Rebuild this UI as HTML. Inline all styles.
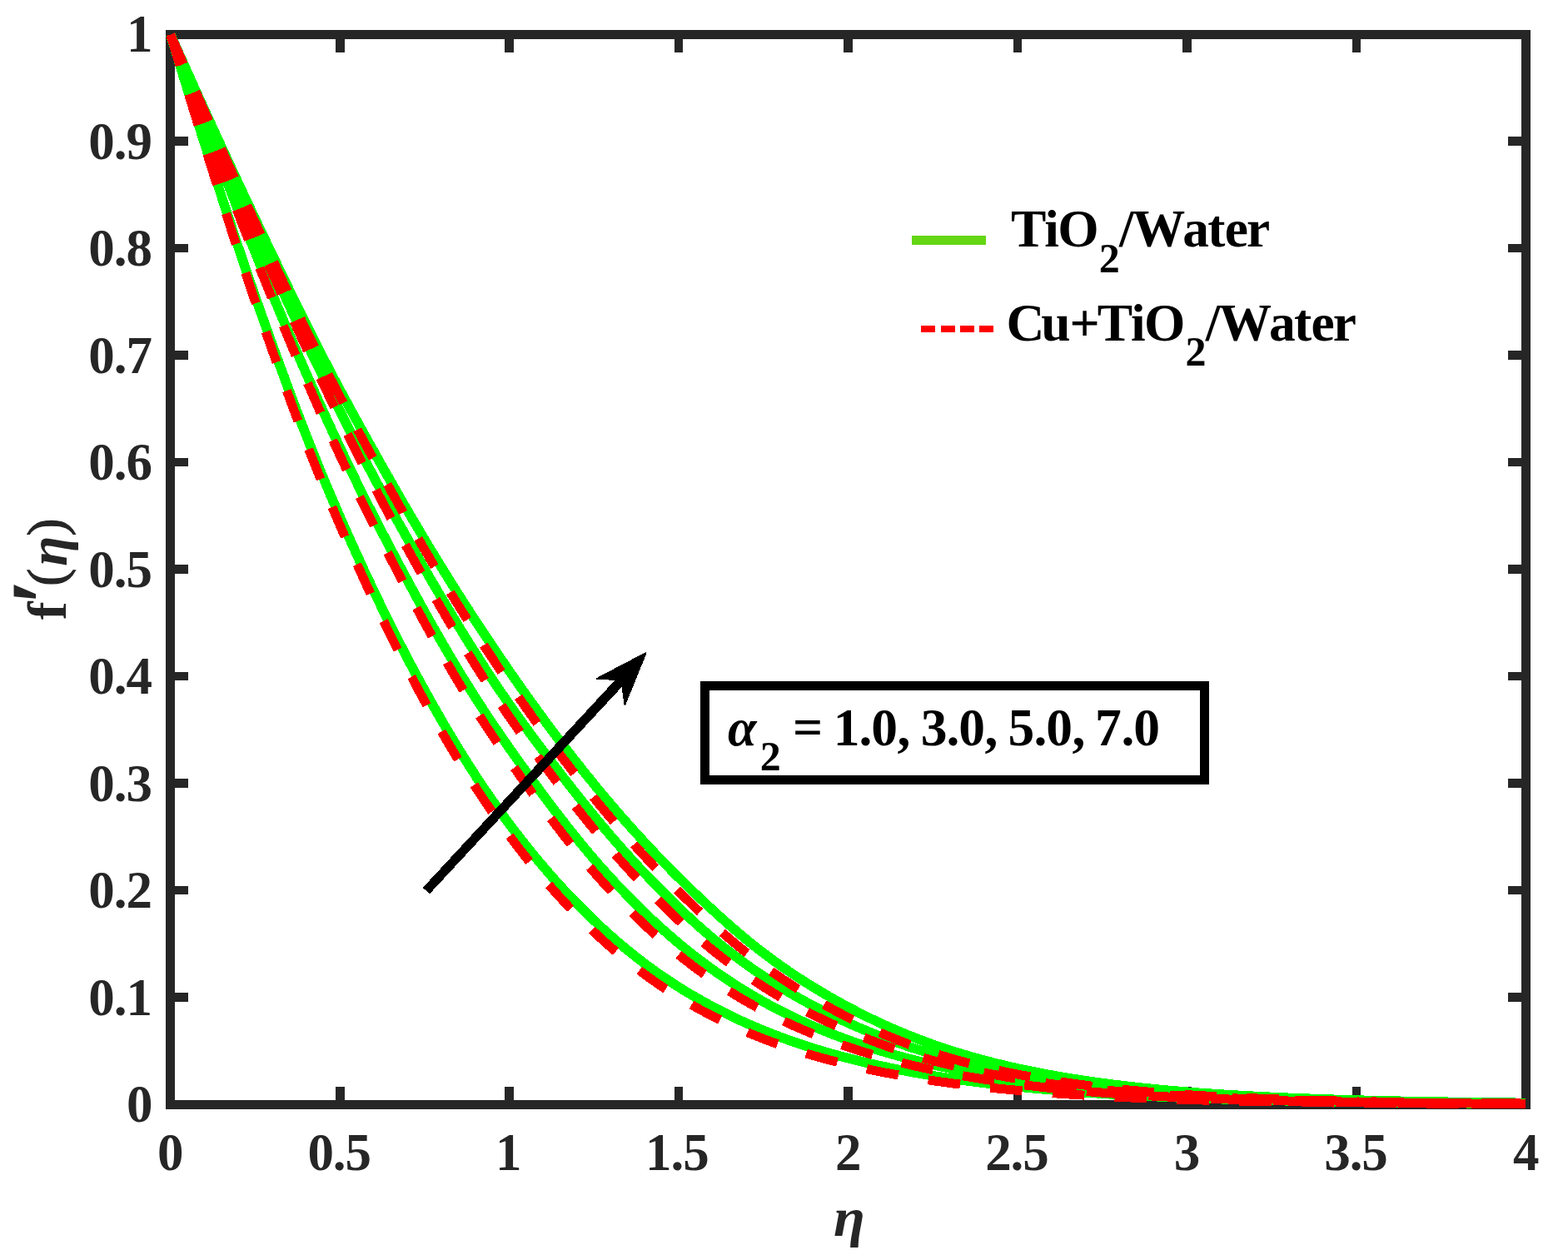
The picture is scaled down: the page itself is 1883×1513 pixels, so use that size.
<!DOCTYPE html>
<html lang="en"><head><meta charset="utf-8"><title>f'(eta) velocity profile</title>
<style>
html,body{margin:0;padding:0;background:#fff;}
body{width:1883px;height:1513px;overflow:hidden;}
svg{display:block;}
text{font-kerning:none;white-space:pre;}
.tk{font-family:"Liberation Serif",serif;font-weight:bold;font-size:63px;fill:#262626;}
.bk{font-family:"Liberation Serif",serif;font-weight:bold;font-size:62.5px;fill:#000;}
.lb{font-family:"Liberation Serif",serif;font-weight:bold;font-size:68.75px;fill:#262626;}
</style></head>
<body>
<svg width="1883" height="1513" viewBox="0 0 1883 1513">
<rect x="0" y="0" width="1883" height="1513" fill="#ffffff"/>
<defs><clipPath id="ax"><rect x="199" y="36" width="1639" height="1296"/></clipPath></defs>
<g shape-rendering="crispEdges" fill="#262626" stroke="none">
<rect x="199.0" y="36.1" width="1638.9" height="10.7"/><rect x="199.0" y="1321.1" width="1638.9" height="10.7"/><rect x="199.0" y="36.1" width="10.7" height="1295.7"/><rect x="1827.2" y="36.1" width="10.7" height="1295.7"/>
<rect x="402.8" y="45.8" width="10.7" height="17.1"/><rect x="402.8" y="1305.0" width="10.7" height="17.1"/><rect x="606.3" y="45.8" width="10.7" height="17.1"/><rect x="606.3" y="1305.0" width="10.7" height="17.1"/><rect x="809.7" y="45.8" width="10.7" height="17.1"/><rect x="809.7" y="1305.0" width="10.7" height="17.1"/><rect x="1013.2" y="45.8" width="10.7" height="17.1"/><rect x="1013.2" y="1305.0" width="10.7" height="17.1"/><rect x="1216.7" y="45.8" width="10.7" height="17.1"/><rect x="1216.7" y="1305.0" width="10.7" height="17.1"/><rect x="1420.1" y="45.8" width="10.7" height="17.1"/><rect x="1420.1" y="1305.0" width="10.7" height="17.1"/><rect x="1623.6" y="45.8" width="10.7" height="17.1"/><rect x="1623.6" y="1305.0" width="10.7" height="17.1"/><rect x="208.7" y="1192.2" width="17.1" height="10.7"/><rect x="1811.1" y="1192.2" width="17.1" height="10.7"/><rect x="208.7" y="1063.7" width="17.1" height="10.7"/><rect x="1811.1" y="1063.7" width="17.1" height="10.7"/><rect x="208.7" y="935.2" width="17.1" height="10.7"/><rect x="1811.1" y="935.2" width="17.1" height="10.7"/><rect x="208.7" y="806.7" width="17.1" height="10.7"/><rect x="1811.1" y="806.7" width="17.1" height="10.7"/><rect x="208.7" y="678.2" width="17.1" height="10.7"/><rect x="1811.1" y="678.2" width="17.1" height="10.7"/><rect x="208.7" y="549.7" width="17.1" height="10.7"/><rect x="1811.1" y="549.7" width="17.1" height="10.7"/><rect x="208.7" y="421.2" width="17.1" height="10.7"/><rect x="1811.1" y="421.2" width="17.1" height="10.7"/><rect x="208.7" y="292.7" width="17.1" height="10.7"/><rect x="1811.1" y="292.7" width="17.1" height="10.7"/><rect x="208.7" y="164.2" width="17.1" height="10.7"/><rect x="1811.1" y="164.2" width="17.1" height="10.7"/>
</g>
<g class="tk">
<text y="1405.3" x="189.05">0</text><text y="1405.3" x="369.40 399.84 414.53">0.5</text><text y="1405.3" x="595.08">1</text><text y="1405.3" x="775.01 805.44 820.13">1.5</text><text y="1405.3" x="1002.93">2</text><text y="1405.3" x="1183.13 1213.57 1228.26">2.5</text><text y="1405.3" x="1409.72">3</text><text y="1405.3" x="1590.19 1620.63 1635.32">3.5</text><text y="1405.3" x="1816.90">4</text>
</g>
<g class="tk">
<text y="1347.4" x="152.00">0</text><text y="1218.9" x="106.28 136.71 151.40">0.1</text><text y="1090.4" x="106.28 136.71 151.40">0.2</text><text y="961.9" x="106.28 136.71 151.40">0.3</text><text y="833.4" x="106.28 136.71 151.40">0.4</text><text y="704.9" x="106.28 136.71 151.40">0.5</text><text y="576.4" x="106.28 136.71 151.40">0.6</text><text y="447.9" x="106.28 136.71 151.40">0.7</text><text y="319.4" x="106.28 136.71 151.40">0.8</text><text y="190.9" x="106.28 136.71 151.40">0.9</text><text y="62.4" x="152.00">1</text>
</g>
<g clip-path="url(#ax)" fill="none" shape-rendering="crispEdges" stroke-linejoin="round">
<path d="M204.70,41.45 L208.77,54.60 L212.84,67.73 L216.91,80.82 L220.98,93.88 L225.05,106.89 L229.12,119.87 L233.18,132.81 L237.25,145.70 L241.32,158.55 L245.39,171.34 L249.46,184.11 L253.53,196.85 L257.60,209.55 L261.67,222.21 L265.74,234.81 L269.81,247.34 L273.88,259.79 L277.95,272.15 L282.02,284.42 L286.08,296.58 L290.15,308.65 L294.22,320.62 L298.29,332.50 L302.36,344.30 L306.43,356.01 L310.50,367.64 L314.57,379.19 L318.64,390.65 L322.71,402.04 L326.78,413.34 L330.85,424.57 L334.92,435.73 L338.99,446.82 L343.05,457.85 L347.12,468.80 L351.19,479.66 L355.26,490.43 L359.33,501.11 L363.40,511.69 L367.47,522.16 L371.54,532.52 L375.61,542.76 L379.68,552.89 L383.75,562.88 L387.82,572.76 L391.89,582.51 L395.95,592.16 L400.02,601.69 L404.09,611.13 L408.16,620.48 L412.23,629.73 L416.30,638.90 L420.37,647.99 L424.44,657.01 L428.51,665.95 L432.58,674.82 L436.65,683.64 L440.72,692.38 L444.79,701.03 L448.86,709.60 L452.92,718.09 L456.99,726.50 L461.06,734.83 L465.13,743.08 L469.20,751.26 L473.27,759.35 L477.34,767.37 L481.41,775.31 L485.48,783.18 L489.55,790.97 L493.62,798.69 L497.69,806.34 L501.76,813.91 L505.82,821.42 L509.89,828.85 L513.96,836.21 L518.03,843.50 L522.10,850.71 L526.17,857.84 L530.24,864.90 L534.31,871.88 L538.38,878.78 L542.45,885.61 L546.52,892.35 L550.59,899.02 L554.66,905.61 L558.72,912.11 L562.79,918.54 L566.86,924.88 L570.93,931.15 L575.00,937.33 L579.07,943.43 L583.14,949.46 L587.21,955.40 L591.28,961.26 L595.35,967.05 L599.42,972.77 L603.49,978.41 L607.56,983.97 L611.62,989.46 L615.69,994.88 L619.76,1000.23 L623.83,1005.51 L627.90,1010.71 L631.97,1015.85 L636.04,1020.92 L640.11,1025.92 L644.18,1030.86 L648.25,1035.73 L652.32,1040.53 L656.39,1045.27 L660.46,1049.94 L664.53,1054.56 L668.59,1059.10 L672.66,1063.59 L676.73,1068.02 L680.80,1072.39 L684.87,1076.70 L688.94,1080.95 L693.01,1085.14 L697.08,1089.28 L701.15,1093.36 L705.22,1097.39 L709.29,1101.35 L713.36,1105.26 L717.43,1109.12 L721.49,1112.91 L725.56,1116.65 L729.63,1120.33 L733.70,1123.96 L737.77,1127.53 L741.84,1131.04 L745.91,1134.50 L749.98,1137.91 L754.05,1141.26 L758.12,1144.56 L762.19,1147.80 L766.26,1150.99 L770.33,1154.12 L774.39,1157.21 L778.46,1160.24 L782.53,1163.22 L786.60,1166.15 L790.67,1169.03 L794.74,1171.86 L798.81,1174.64 L802.88,1177.37 L806.95,1180.05 L811.02,1182.68 L815.09,1185.27 L819.16,1187.81 L823.23,1190.31 L827.30,1192.77 L831.36,1195.18 L835.43,1197.56 L839.50,1199.90 L843.57,1202.19 L847.64,1204.45 L851.71,1206.67 L855.78,1208.85 L859.85,1211.00 L863.92,1213.10 L867.99,1215.17 L872.06,1217.21 L876.13,1219.21 L880.20,1221.18 L884.26,1223.11 L888.33,1225.00 L892.40,1226.87 L896.47,1228.70 L900.54,1230.50 L904.61,1232.27 L908.68,1234.01 L912.75,1235.71 L916.82,1237.39 L920.89,1239.03 L924.96,1240.65 L929.03,1242.24 L933.10,1243.80 L937.16,1245.33 L941.23,1246.83 L945.30,1248.31 L949.37,1249.76 L953.44,1251.18 L957.51,1252.58 L961.58,1253.95 L965.65,1255.30 L969.72,1256.62 L973.79,1257.92 L977.86,1259.19 L981.93,1260.44 L986.00,1261.67 L990.07,1262.88 L994.13,1264.06 L998.20,1265.22 L1002.27,1266.36 L1006.34,1267.48 L1010.41,1268.58 L1014.48,1269.66 L1018.55,1270.71 L1022.62,1271.75 L1026.69,1272.77 L1030.76,1273.77 L1034.83,1274.75 L1038.90,1275.72 L1042.97,1276.67 L1047.03,1277.60 L1051.10,1278.51 L1055.17,1279.40 L1059.24,1280.28 L1063.31,1281.15 L1067.38,1282.00 L1071.45,1282.83 L1075.52,1283.65 L1079.59,1284.45 L1083.66,1285.23 L1087.73,1286.01 L1091.80,1286.77 L1095.87,1287.51 L1099.94,1288.24 L1104.00,1288.96 L1108.07,1289.67 L1112.14,1290.36 L1116.21,1291.04 L1120.28,1291.70 L1124.35,1292.36 L1128.42,1293.00 L1132.49,1293.63 L1136.56,1294.25 L1140.63,1294.85 L1144.70,1295.45 L1148.77,1296.04 L1152.84,1296.61 L1156.90,1297.17 L1160.97,1297.73 L1165.04,1298.27 L1169.11,1298.80 L1173.18,1299.33 L1177.25,1299.84 L1181.32,1300.34 L1185.39,1300.84 L1189.46,1301.32 L1193.53,1301.80 L1197.60,1302.27 L1201.67,1302.72 L1205.74,1303.17 L1209.80,1303.62 L1213.87,1304.05 L1217.94,1304.47 L1222.01,1304.89 L1226.08,1305.30 L1230.15,1305.70 L1234.22,1306.10 L1238.29,1306.49 L1242.36,1306.87 L1246.43,1307.24 L1250.50,1307.61 L1254.57,1307.97 L1258.64,1308.32 L1262.71,1308.67 L1266.77,1309.01 L1270.84,1309.35 L1274.91,1309.67 L1278.98,1310.00 L1283.05,1310.31 L1287.12,1310.62 L1291.19,1310.93 L1295.26,1311.22 L1299.33,1311.52 L1303.40,1311.80 L1307.47,1312.09 L1311.54,1312.36 L1315.61,1312.63 L1319.67,1312.90 L1323.74,1313.16 L1327.81,1313.42 L1331.88,1313.67 L1335.95,1313.91 L1340.02,1314.15 L1344.09,1314.39 L1348.16,1314.62 L1352.23,1314.85 L1356.30,1315.07 L1360.37,1315.29 L1364.44,1315.51 L1368.51,1315.72 L1372.57,1315.92 L1376.64,1316.12 L1380.71,1316.32 L1384.78,1316.52 L1388.85,1316.71 L1392.92,1316.89 L1396.99,1317.07 L1401.06,1317.25 L1405.13,1317.43 L1409.20,1317.60 L1413.27,1317.77 L1417.34,1317.93 L1421.41,1318.10 L1425.48,1318.26 L1429.54,1318.41 L1433.61,1318.56 L1437.68,1318.71 L1441.75,1318.86 L1445.82,1319.00 L1449.89,1319.14 L1453.96,1319.28 L1458.03,1319.42 L1462.10,1319.55 L1466.17,1319.68 L1470.24,1319.81 L1474.31,1319.93 L1478.38,1320.05 L1482.44,1320.17 L1486.51,1320.29 L1490.58,1320.41 L1494.65,1320.52 L1498.72,1320.63 L1502.79,1320.74 L1506.86,1320.85 L1510.93,1320.95 L1515.00,1321.05 L1519.07,1321.16 L1523.14,1321.25 L1527.21,1321.35 L1531.28,1321.45 L1535.34,1321.54 L1539.41,1321.63 L1543.48,1321.72 L1547.55,1321.81 L1551.62,1321.90 L1555.69,1321.98 L1559.76,1322.07 L1563.83,1322.15 L1567.90,1322.23 L1571.97,1322.31 L1576.04,1322.38 L1580.11,1322.46 L1584.18,1322.53 L1588.25,1322.61 L1592.31,1322.68 L1596.38,1322.75 L1600.45,1322.82 L1604.52,1322.89 L1608.59,1322.95 L1612.66,1323.02 L1616.73,1323.08 L1620.80,1323.14 L1624.87,1323.21 L1628.94,1323.27 L1633.01,1323.33 L1637.08,1323.38 L1641.15,1323.44 L1645.21,1323.50 L1649.28,1323.55 L1653.35,1323.61 L1657.42,1323.66 L1661.49,1323.71 L1665.56,1323.76 L1669.63,1323.81 L1673.70,1323.86 L1677.77,1323.91 L1681.84,1323.96 L1685.91,1324.00 L1689.98,1324.05 L1694.05,1324.09 L1698.11,1324.14 L1702.18,1324.18 L1706.25,1324.22 L1710.32,1324.26 L1714.39,1324.30 L1718.46,1324.34 L1722.53,1324.38 L1726.60,1324.42 L1730.67,1324.46 L1734.74,1324.49 L1738.81,1324.53 L1742.88,1324.57 L1746.95,1324.60 L1751.02,1324.63 L1755.08,1324.67 L1759.15,1324.70 L1763.22,1324.73 L1767.29,1324.76 L1771.36,1324.80 L1775.43,1324.83 L1779.50,1324.86 L1783.57,1324.88 L1787.64,1324.91 L1791.71,1324.94 L1795.78,1324.97 L1799.85,1325.00 L1803.92,1325.02 L1807.98,1325.05 L1812.05,1325.07 L1816.12,1325.10 L1820.19,1325.12 L1824.26,1325.15 L1828.33,1325.17 L1832.40,1325.19" stroke="#00ff00" stroke-width="11.6"/>
<path d="M204.70,41.45 L208.77,52.25 L212.84,63.02 L216.91,73.78 L220.98,84.51 L225.05,95.22 L229.12,105.91 L233.18,116.57 L237.25,127.20 L241.32,137.80 L245.39,148.38 L249.46,158.92 L253.53,169.43 L257.60,179.91 L261.67,190.36 L265.74,200.79 L269.81,211.19 L273.88,221.55 L277.95,231.88 L282.02,242.17 L286.08,252.42 L290.15,262.64 L294.22,272.80 L298.29,282.92 L302.36,293.00 L306.43,303.02 L310.50,313.01 L314.57,322.96 L318.64,332.87 L322.71,342.73 L326.78,352.55 L330.85,362.32 L334.92,372.03 L338.99,381.70 L343.05,391.31 L347.12,400.86 L351.19,410.36 L355.26,419.79 L359.33,429.16 L363.40,438.48 L367.47,447.75 L371.54,456.97 L375.61,466.13 L379.68,475.23 L383.75,484.28 L387.82,493.26 L391.89,502.19 L395.95,511.05 L400.02,519.85 L404.09,528.58 L408.16,537.25 L412.23,545.85 L416.30,554.39 L420.37,562.84 L424.44,571.22 L428.51,579.51 L432.58,587.74 L436.65,595.89 L440.72,603.98 L444.79,612.01 L448.86,619.98 L452.92,627.90 L456.99,635.77 L461.06,643.60 L465.13,651.38 L469.20,659.12 L473.27,666.83 L477.34,674.50 L481.41,682.15 L485.48,689.76 L489.55,697.34 L493.62,704.88 L497.69,712.38 L501.76,719.83 L505.82,727.24 L509.89,734.60 L513.96,741.91 L518.03,749.17 L522.10,756.37 L526.17,763.51 L530.24,770.60 L534.31,777.62 L538.38,784.58 L542.45,791.47 L546.52,798.30 L550.59,805.05 L554.66,811.74 L558.72,818.36 L562.79,824.89 L566.86,831.34 L570.93,837.73 L575.00,844.04 L579.07,850.29 L583.14,856.48 L587.21,862.61 L591.28,868.68 L595.35,874.70 L599.42,880.67 L603.49,886.59 L607.56,892.47 L611.62,898.30 L615.69,904.09 L619.76,909.84 L623.83,915.56 L627.90,921.24 L631.97,926.89 L636.04,932.51 L640.11,938.10 L644.18,943.66 L648.25,949.18 L652.32,954.68 L656.39,960.13 L660.46,965.55 L664.53,970.93 L668.59,976.27 L672.66,981.56 L676.73,986.80 L680.80,992.00 L684.87,997.14 L688.94,1002.24 L693.01,1007.28 L697.08,1012.27 L701.15,1017.20 L705.22,1022.08 L709.29,1026.90 L713.36,1031.66 L717.43,1036.36 L721.49,1041.00 L725.56,1045.58 L729.63,1050.10 L733.70,1054.55 L737.77,1058.95 L741.84,1063.28 L745.91,1067.55 L749.98,1071.76 L754.05,1075.92 L758.12,1080.05 L762.19,1084.13 L766.26,1088.16 L770.33,1092.15 L774.39,1096.08 L778.46,1099.98 L782.53,1103.82 L786.60,1107.61 L790.67,1111.35 L794.74,1115.04 L798.81,1118.68 L802.88,1122.27 L806.95,1125.80 L811.02,1129.29 L815.09,1132.72 L819.16,1136.09 L823.23,1139.42 L827.30,1142.69 L831.36,1145.91 L835.43,1149.09 L839.50,1152.21 L843.57,1155.28 L847.64,1158.31 L851.71,1161.29 L855.78,1164.22 L859.85,1167.10 L863.92,1169.94 L867.99,1172.73 L872.06,1175.47 L876.13,1178.18 L880.20,1180.83 L884.26,1183.45 L888.33,1186.02 L892.40,1188.55 L896.47,1191.04 L900.54,1193.48 L904.61,1195.89 L908.68,1198.26 L912.75,1200.58 L916.82,1202.87 L920.89,1205.12 L924.96,1207.33 L929.03,1209.50 L933.10,1211.64 L937.16,1213.74 L941.23,1215.81 L945.30,1217.83 L949.37,1219.83 L953.44,1221.79 L957.51,1223.71 L961.58,1225.61 L965.65,1227.47 L969.72,1229.29 L973.79,1231.09 L977.86,1232.85 L981.93,1234.59 L986.00,1236.29 L990.07,1237.96 L994.13,1239.61 L998.20,1241.22 L1002.27,1242.81 L1006.34,1244.36 L1010.41,1245.89 L1014.48,1247.40 L1018.55,1248.87 L1022.62,1250.32 L1026.69,1251.74 L1030.76,1253.14 L1034.83,1254.52 L1038.90,1255.87 L1042.97,1257.20 L1047.03,1258.50 L1051.10,1259.78 L1055.17,1261.04 L1059.24,1262.28 L1063.31,1263.49 L1067.38,1264.69 L1071.45,1265.86 L1075.52,1267.01 L1079.59,1268.14 L1083.66,1269.25 L1087.73,1270.34 L1091.80,1271.41 L1095.87,1272.46 L1099.94,1273.50 L1104.00,1274.51 L1108.07,1275.51 L1112.14,1276.48 L1116.21,1277.44 L1120.28,1278.39 L1124.35,1279.31 L1128.42,1280.22 L1132.49,1281.11 L1136.56,1281.99 L1140.63,1282.85 L1144.70,1283.69 L1148.77,1284.52 L1152.84,1285.33 L1156.90,1286.13 L1160.97,1286.92 L1165.04,1287.68 L1169.11,1288.44 L1173.18,1289.18 L1177.25,1289.91 L1181.32,1290.62 L1185.39,1291.32 L1189.46,1292.01 L1193.53,1292.68 L1197.60,1293.34 L1201.67,1293.99 L1205.74,1294.63 L1209.80,1295.25 L1213.87,1295.86 L1217.94,1296.46 L1222.01,1297.05 L1226.08,1297.63 L1230.15,1298.20 L1234.22,1298.76 L1238.29,1299.31 L1242.36,1299.85 L1246.43,1300.38 L1250.50,1300.90 L1254.57,1301.41 L1258.64,1301.91 L1262.71,1302.40 L1266.77,1302.88 L1270.84,1303.36 L1274.91,1303.82 L1278.98,1304.28 L1283.05,1304.72 L1287.12,1305.16 L1291.19,1305.59 L1295.26,1306.01 L1299.33,1306.43 L1303.40,1306.83 L1307.47,1307.23 L1311.54,1307.62 L1315.61,1308.00 L1319.67,1308.38 L1323.74,1308.74 L1327.81,1309.10 L1331.88,1309.46 L1335.95,1309.80 L1340.02,1310.14 L1344.09,1310.47 L1348.16,1310.79 L1352.23,1311.11 L1356.30,1311.42 L1360.37,1311.73 L1364.44,1312.03 L1368.51,1312.32 L1372.57,1312.60 L1376.64,1312.88 L1380.71,1313.16 L1384.78,1313.43 L1388.85,1313.69 L1392.92,1313.95 L1396.99,1314.20 L1401.06,1314.44 L1405.13,1314.68 L1409.20,1314.92 L1413.27,1315.15 L1417.34,1315.38 L1421.41,1315.60 L1425.48,1315.81 L1429.54,1316.03 L1433.61,1316.23 L1437.68,1316.44 L1441.75,1316.63 L1445.82,1316.83 L1449.89,1317.02 L1453.96,1317.21 L1458.03,1317.39 L1462.10,1317.57 L1466.17,1317.74 L1470.24,1317.91 L1474.31,1318.08 L1478.38,1318.25 L1482.44,1318.41 L1486.51,1318.57 L1490.58,1318.72 L1494.65,1318.87 L1498.72,1319.02 L1502.79,1319.17 L1506.86,1319.31 L1510.93,1319.45 L1515.00,1319.59 L1519.07,1319.72 L1523.14,1319.86 L1527.21,1319.98 L1531.28,1320.11 L1535.34,1320.24 L1539.41,1320.36 L1543.48,1320.48 L1547.55,1320.59 L1551.62,1320.71 L1555.69,1320.82 L1559.76,1320.93 L1563.83,1321.04 L1567.90,1321.14 L1571.97,1321.25 L1576.04,1321.35 L1580.11,1321.45 L1584.18,1321.54 L1588.25,1321.64 L1592.31,1321.73 L1596.38,1321.82 L1600.45,1321.91 L1604.52,1322.00 L1608.59,1322.09 L1612.66,1322.17 L1616.73,1322.26 L1620.80,1322.34 L1624.87,1322.42 L1628.94,1322.50 L1633.01,1322.57 L1637.08,1322.65 L1641.15,1322.72 L1645.21,1322.79 L1649.28,1322.86 L1653.35,1322.93 L1657.42,1323.00 L1661.49,1323.07 L1665.56,1323.13 L1669.63,1323.20 L1673.70,1323.26 L1677.77,1323.32 L1681.84,1323.38 L1685.91,1323.44 L1689.98,1323.50 L1694.05,1323.55 L1698.11,1323.61 L1702.18,1323.66 L1706.25,1323.72 L1710.32,1323.77 L1714.39,1323.82 L1718.46,1323.87 L1722.53,1323.92 L1726.60,1323.97 L1730.67,1324.02 L1734.74,1324.06 L1738.81,1324.11 L1742.88,1324.15 L1746.95,1324.20 L1751.02,1324.24 L1755.08,1324.28 L1759.15,1324.32 L1763.22,1324.36 L1767.29,1324.40 L1771.36,1324.44 L1775.43,1324.48 L1779.50,1324.52 L1783.57,1324.55 L1787.64,1324.59 L1791.71,1324.62 L1795.78,1324.66 L1799.85,1324.69 L1803.92,1324.72 L1807.98,1324.76 L1812.05,1324.79 L1816.12,1324.82 L1820.19,1324.85 L1824.26,1324.88 L1828.33,1324.91 L1832.40,1324.94" stroke="#00ff00" stroke-width="11.6"/>
<path d="M204.70,41.45 L208.77,51.25 L212.84,61.02 L216.91,70.76 L220.98,80.48 L225.05,90.17 L229.12,99.83 L233.18,109.46 L237.25,119.06 L241.32,128.64 L245.39,138.17 L249.46,147.68 L253.53,157.16 L257.60,166.60 L261.67,176.01 L265.74,185.37 L269.81,194.70 L273.88,203.99 L277.95,213.24 L282.02,222.46 L286.08,231.65 L290.15,240.81 L294.22,249.94 L298.29,259.04 L302.36,268.12 L306.43,277.17 L310.50,286.21 L314.57,295.22 L318.64,304.21 L322.71,313.18 L326.78,322.13 L330.85,331.05 L334.92,339.94 L338.99,348.81 L343.05,357.64 L347.12,366.44 L351.19,375.21 L355.26,383.93 L359.33,392.62 L363.40,401.26 L367.47,409.86 L371.54,418.41 L375.61,426.92 L379.68,435.38 L383.75,443.81 L387.82,452.19 L391.89,460.53 L395.95,468.82 L400.02,477.08 L404.09,485.29 L408.16,493.46 L412.23,501.59 L416.30,509.67 L420.37,517.71 L424.44,525.71 L428.51,533.66 L432.58,541.56 L436.65,549.42 L440.72,557.24 L444.79,565.00 L448.86,572.71 L452.92,580.36 L456.99,587.97 L461.06,595.53 L465.13,603.05 L469.20,610.51 L473.27,617.94 L477.34,625.32 L481.41,632.66 L485.48,639.96 L489.55,647.22 L493.62,654.44 L497.69,661.63 L501.76,668.78 L505.82,675.90 L509.89,682.98 L513.96,690.03 L518.03,697.04 L522.10,704.02 L526.17,710.96 L530.24,717.86 L534.31,724.72 L538.38,731.53 L542.45,738.31 L546.52,745.03 L550.59,751.72 L554.66,758.35 L558.72,764.94 L562.79,771.48 L566.86,777.97 L570.93,784.41 L575.00,790.80 L579.07,797.13 L583.14,803.42 L587.21,809.65 L591.28,815.82 L595.35,821.93 L599.42,827.97 L603.49,833.95 L607.56,839.87 L611.62,845.74 L615.69,851.56 L619.76,857.32 L623.83,863.03 L627.90,868.70 L631.97,874.33 L636.04,879.91 L640.11,885.46 L644.18,890.96 L648.25,896.43 L652.32,901.87 L656.39,907.27 L660.46,912.64 L664.53,917.98 L668.59,923.29 L672.66,928.57 L676.73,933.82 L680.80,939.06 L684.87,944.26 L688.94,949.43 L693.01,954.58 L697.08,959.69 L701.15,964.76 L705.22,969.80 L709.29,974.80 L713.36,979.76 L717.43,984.69 L721.49,989.57 L725.56,994.41 L729.63,999.21 L733.70,1003.97 L737.77,1008.68 L741.84,1013.35 L745.91,1017.97 L749.98,1022.55 L754.05,1027.08 L758.12,1031.56 L762.19,1035.99 L766.26,1040.38 L770.33,1044.72 L774.39,1049.01 L778.46,1053.25 L782.53,1057.44 L786.60,1061.58 L790.67,1065.67 L794.74,1069.71 L798.81,1073.74 L802.88,1077.78 L806.95,1081.81 L811.02,1085.82 L815.09,1089.80 L819.16,1093.73 L823.23,1097.60 L827.30,1101.42 L831.36,1105.18 L835.43,1108.88 L839.50,1112.53 L843.57,1116.12 L847.64,1119.66 L851.71,1123.15 L855.78,1126.58 L859.85,1129.97 L863.92,1133.30 L867.99,1136.58 L872.06,1139.81 L876.13,1143.00 L880.20,1146.13 L884.26,1149.22 L888.33,1152.26 L892.40,1155.26 L896.47,1158.20 L900.54,1161.11 L904.61,1163.97 L908.68,1166.79 L912.75,1169.56 L916.82,1172.29 L920.89,1174.98 L924.96,1177.63 L929.03,1180.23 L933.10,1182.80 L937.16,1185.33 L941.23,1187.81 L945.30,1190.26 L949.37,1192.67 L953.44,1195.05 L957.51,1197.38 L961.58,1199.68 L965.65,1201.95 L969.72,1204.17 L973.79,1206.37 L977.86,1208.53 L981.93,1210.65 L986.00,1212.74 L990.07,1214.80 L994.13,1216.82 L998.20,1218.82 L1002.27,1220.78 L1006.34,1222.71 L1010.41,1224.61 L1014.48,1226.47 L1018.55,1228.31 L1022.62,1230.12 L1026.69,1231.90 L1030.76,1233.66 L1034.83,1235.39 L1038.90,1237.09 L1042.97,1238.76 L1047.03,1240.41 L1051.10,1242.03 L1055.17,1243.62 L1059.24,1245.19 L1063.31,1246.74 L1067.38,1248.25 L1071.45,1249.75 L1075.52,1251.21 L1079.59,1252.66 L1083.66,1254.08 L1087.73,1255.47 L1091.80,1256.84 L1095.87,1258.19 L1099.94,1259.51 L1104.00,1260.81 L1108.07,1262.09 L1112.14,1263.35 L1116.21,1264.58 L1120.28,1265.79 L1124.35,1266.98 L1128.42,1268.15 L1132.49,1269.30 L1136.56,1270.42 L1140.63,1271.53 L1144.70,1272.61 L1148.77,1273.68 L1152.84,1274.72 L1156.90,1275.75 L1160.97,1276.75 L1165.04,1277.74 L1169.11,1278.71 L1173.18,1279.66 L1177.25,1280.59 L1181.32,1281.51 L1185.39,1282.40 L1189.46,1283.28 L1193.53,1284.15 L1197.60,1284.99 L1201.67,1285.82 L1205.74,1286.63 L1209.80,1287.43 L1213.87,1288.21 L1217.94,1288.98 L1222.01,1289.73 L1226.08,1290.47 L1230.15,1291.19 L1234.22,1291.90 L1238.29,1292.60 L1242.36,1293.29 L1246.43,1293.96 L1250.50,1294.63 L1254.57,1295.28 L1258.64,1295.91 L1262.71,1296.54 L1266.77,1297.15 L1270.84,1297.76 L1274.91,1298.35 L1278.98,1298.93 L1283.05,1299.50 L1287.12,1300.06 L1291.19,1300.60 L1295.26,1301.14 L1299.33,1301.67 L1303.40,1302.18 L1307.47,1302.69 L1311.54,1303.18 L1315.61,1303.67 L1319.67,1304.14 L1323.74,1304.61 L1327.81,1305.06 L1331.88,1305.51 L1335.95,1305.94 L1340.02,1306.37 L1344.09,1306.79 L1348.16,1307.20 L1352.23,1307.60 L1356.30,1308.00 L1360.37,1308.38 L1364.44,1308.76 L1368.51,1309.12 L1372.57,1309.48 L1376.64,1309.84 L1380.71,1310.18 L1384.78,1310.52 L1388.85,1310.85 L1392.92,1311.17 L1396.99,1311.48 L1401.06,1311.79 L1405.13,1312.09 L1409.20,1312.39 L1413.27,1312.68 L1417.34,1312.96 L1421.41,1313.23 L1425.48,1313.50 L1429.54,1313.76 L1433.61,1314.02 L1437.68,1314.27 L1441.75,1314.52 L1445.82,1314.76 L1449.89,1315.00 L1453.96,1315.23 L1458.03,1315.45 L1462.10,1315.68 L1466.17,1315.89 L1470.24,1316.11 L1474.31,1316.31 L1478.38,1316.52 L1482.44,1316.72 L1486.51,1316.91 L1490.58,1317.10 L1494.65,1317.29 L1498.72,1317.47 L1502.79,1317.65 L1506.86,1317.83 L1510.93,1318.00 L1515.00,1318.17 L1519.07,1318.33 L1523.14,1318.50 L1527.21,1318.65 L1531.28,1318.81 L1535.34,1318.96 L1539.41,1319.11 L1543.48,1319.26 L1547.55,1319.40 L1551.62,1319.54 L1555.69,1319.68 L1559.76,1319.81 L1563.83,1319.94 L1567.90,1320.07 L1571.97,1320.20 L1576.04,1320.32 L1580.11,1320.44 L1584.18,1320.56 L1588.25,1320.68 L1592.31,1320.79 L1596.38,1320.91 L1600.45,1321.02 L1604.52,1321.12 L1608.59,1321.23 L1612.66,1321.33 L1616.73,1321.43 L1620.80,1321.53 L1624.87,1321.63 L1628.94,1321.72 L1633.01,1321.82 L1637.08,1321.91 L1641.15,1322.00 L1645.21,1322.09 L1649.28,1322.17 L1653.35,1322.26 L1657.42,1322.34 L1661.49,1322.42 L1665.56,1322.50 L1669.63,1322.58 L1673.70,1322.65 L1677.77,1322.73 L1681.84,1322.80 L1685.91,1322.87 L1689.98,1322.94 L1694.05,1323.01 L1698.11,1323.08 L1702.18,1323.15 L1706.25,1323.21 L1710.32,1323.27 L1714.39,1323.34 L1718.46,1323.40 L1722.53,1323.46 L1726.60,1323.51 L1730.67,1323.57 L1734.74,1323.63 L1738.81,1323.68 L1742.88,1323.74 L1746.95,1323.79 L1751.02,1323.84 L1755.08,1323.89 L1759.15,1323.94 L1763.22,1323.99 L1767.29,1324.04 L1771.36,1324.08 L1775.43,1324.13 L1779.50,1324.17 L1783.57,1324.22 L1787.64,1324.26 L1791.71,1324.30 L1795.78,1324.34 L1799.85,1324.38 L1803.92,1324.42 L1807.98,1324.46 L1812.05,1324.50 L1816.12,1324.54 L1820.19,1324.57 L1824.26,1324.61 L1828.33,1324.65 L1832.40,1324.68" stroke="#00ff00" stroke-width="11.6"/>
<path d="M204.70,41.45 L208.77,50.55 L212.84,59.63 L216.91,68.70 L220.98,77.75 L225.05,86.79 L229.12,95.80 L233.18,104.80 L237.25,113.78 L241.32,122.74 L245.39,131.68 L249.46,140.60 L253.53,149.50 L257.60,158.37 L261.67,167.22 L265.74,176.04 L269.81,184.84 L273.88,193.62 L277.95,202.37 L282.02,211.10 L286.08,219.80 L290.15,228.48 L294.22,237.13 L298.29,245.77 L302.36,254.38 L306.43,262.96 L310.50,271.52 L314.57,280.06 L318.64,288.58 L322.71,297.07 L326.78,305.54 L330.85,314.01 L334.92,322.47 L338.99,330.91 L343.05,339.32 L347.12,347.71 L351.19,356.07 L355.26,364.40 L359.33,372.68 L363.40,380.92 L367.47,389.12 L371.54,397.27 L375.61,405.36 L379.68,413.40 L383.75,421.37 L387.82,429.29 L391.89,437.14 L395.95,444.92 L400.02,452.65 L404.09,460.32 L408.16,467.95 L412.23,475.52 L416.30,483.05 L420.37,490.54 L424.44,497.99 L428.51,505.41 L432.58,512.79 L436.65,520.14 L440.72,527.47 L444.79,534.77 L448.86,542.05 L452.92,549.32 L456.99,556.56 L461.06,563.78 L465.13,570.96 L469.20,578.12 L473.27,585.24 L477.34,592.33 L481.41,599.39 L485.48,606.41 L489.55,613.40 L493.62,620.35 L497.69,627.27 L501.76,634.15 L505.82,641.00 L509.89,647.81 L513.96,654.59 L518.03,661.33 L522.10,668.03 L526.17,674.70 L530.24,681.33 L534.31,687.91 L538.38,694.46 L542.45,700.96 L546.52,707.42 L550.59,713.83 L554.66,720.21 L558.72,726.55 L562.79,732.85 L566.86,739.11 L570.93,745.34 L575.00,751.53 L579.07,757.68 L583.14,763.80 L587.21,769.89 L591.28,775.95 L595.35,781.97 L599.42,787.97 L603.49,793.93 L607.56,799.86 L611.62,805.77 L615.69,811.64 L619.76,817.48 L623.83,823.29 L627.90,829.06 L631.97,834.79 L636.04,840.48 L640.11,846.14 L644.18,851.76 L648.25,857.34 L652.32,862.89 L656.39,868.40 L660.46,873.87 L664.53,879.31 L668.59,884.71 L672.66,890.08 L676.73,895.41 L680.80,900.70 L684.87,905.95 L688.94,911.17 L693.01,916.36 L697.08,921.50 L701.15,926.61 L705.22,931.69 L709.29,936.73 L713.36,941.73 L717.43,946.69 L721.49,951.61 L725.56,956.48 L729.63,961.32 L733.70,966.11 L737.77,970.86 L741.84,975.57 L745.91,980.24 L749.98,984.87 L754.05,989.47 L758.12,994.02 L762.19,998.53 L766.26,1003.01 L770.33,1007.45 L774.39,1011.85 L778.46,1016.22 L782.53,1020.55 L786.60,1024.84 L790.67,1029.10 L794.74,1033.32 L798.81,1037.50 L802.88,1041.65 L806.95,1045.77 L811.02,1049.85 L815.09,1053.89 L819.16,1057.90 L823.23,1061.88 L827.30,1065.82 L831.36,1069.72 L835.43,1073.61 L839.50,1077.47 L843.57,1081.32 L847.64,1085.13 L851.71,1088.92 L855.78,1092.68 L859.85,1096.41 L863.92,1100.11 L867.99,1103.77 L872.06,1107.39 L876.13,1110.98 L880.20,1114.53 L884.26,1118.03 L888.33,1121.49 L892.40,1124.91 L896.47,1128.28 L900.54,1131.61 L904.61,1134.89 L908.68,1138.12 L912.75,1141.31 L916.82,1144.44 L920.89,1147.53 L924.96,1150.56 L929.03,1153.55 L933.10,1156.48 L937.16,1159.37 L941.23,1162.21 L945.30,1165.01 L949.37,1167.77 L953.44,1170.49 L957.51,1173.18 L961.58,1175.82 L965.65,1178.43 L969.72,1181.00 L973.79,1183.54 L977.86,1186.04 L981.93,1188.51 L986.00,1190.94 L990.07,1193.34 L994.13,1195.71 L998.20,1198.05 L1002.27,1200.36 L1006.34,1202.64 L1010.41,1204.89 L1014.48,1207.11 L1018.55,1209.30 L1022.62,1211.46 L1026.69,1213.58 L1030.76,1215.68 L1034.83,1217.75 L1038.90,1219.78 L1042.97,1221.78 L1047.03,1223.76 L1051.10,1225.70 L1055.17,1227.61 L1059.24,1229.49 L1063.31,1231.34 L1067.38,1233.16 L1071.45,1234.96 L1075.52,1236.72 L1079.59,1238.45 L1083.66,1240.15 L1087.73,1241.83 L1091.80,1243.48 L1095.87,1245.09 L1099.94,1246.68 L1104.00,1248.25 L1108.07,1249.78 L1112.14,1251.29 L1116.21,1252.77 L1120.28,1254.23 L1124.35,1255.66 L1128.42,1257.06 L1132.49,1258.44 L1136.56,1259.79 L1140.63,1261.12 L1144.70,1262.42 L1148.77,1263.70 L1152.84,1264.95 L1156.90,1266.18 L1160.97,1267.39 L1165.04,1268.57 L1169.11,1269.74 L1173.18,1270.88 L1177.25,1271.99 L1181.32,1273.09 L1185.39,1274.16 L1189.46,1275.22 L1193.53,1276.25 L1197.60,1277.26 L1201.67,1278.25 L1205.74,1279.22 L1209.80,1280.18 L1213.87,1281.11 L1217.94,1282.02 L1222.01,1282.92 L1226.08,1283.80 L1230.15,1284.66 L1234.22,1285.51 L1238.29,1286.34 L1242.36,1287.16 L1246.43,1287.96 L1250.50,1288.75 L1254.57,1289.52 L1258.64,1290.28 L1262.71,1291.02 L1266.77,1291.75 L1270.84,1292.46 L1274.91,1293.16 L1278.98,1293.85 L1283.05,1294.53 L1287.12,1295.19 L1291.19,1295.84 L1295.26,1296.47 L1299.33,1297.10 L1303.40,1297.71 L1307.47,1298.30 L1311.54,1298.89 L1315.61,1299.47 L1319.67,1300.03 L1323.74,1300.58 L1327.81,1301.12 L1331.88,1301.65 L1335.95,1302.17 L1340.02,1302.68 L1344.09,1303.17 L1348.16,1303.66 L1352.23,1304.14 L1356.30,1304.61 L1360.37,1305.06 L1364.44,1305.51 L1368.51,1305.95 L1372.57,1306.38 L1376.64,1306.80 L1380.71,1307.21 L1384.78,1307.61 L1388.85,1308.01 L1392.92,1308.39 L1396.99,1308.77 L1401.06,1309.14 L1405.13,1309.50 L1409.20,1309.85 L1413.27,1310.20 L1417.34,1310.53 L1421.41,1310.86 L1425.48,1311.19 L1429.54,1311.50 L1433.61,1311.82 L1437.68,1312.12 L1441.75,1312.42 L1445.82,1312.71 L1449.89,1313.00 L1453.96,1313.28 L1458.03,1313.55 L1462.10,1313.82 L1466.17,1314.08 L1470.24,1314.34 L1474.31,1314.60 L1478.38,1314.84 L1482.44,1315.09 L1486.51,1315.32 L1490.58,1315.56 L1494.65,1315.78 L1498.72,1316.01 L1502.79,1316.22 L1506.86,1316.44 L1510.93,1316.65 L1515.00,1316.85 L1519.07,1317.05 L1523.14,1317.25 L1527.21,1317.44 L1531.28,1317.63 L1535.34,1317.81 L1539.41,1317.99 L1543.48,1318.17 L1547.55,1318.34 L1551.62,1318.51 L1555.69,1318.67 L1559.76,1318.83 L1563.83,1318.99 L1567.90,1319.14 L1571.97,1319.29 L1576.04,1319.44 L1580.11,1319.58 L1584.18,1319.73 L1588.25,1319.86 L1592.31,1320.00 L1596.38,1320.13 L1600.45,1320.26 L1604.52,1320.38 L1608.59,1320.51 L1612.66,1320.63 L1616.73,1320.74 L1620.80,1320.86 L1624.87,1320.97 L1628.94,1321.08 L1633.01,1321.19 L1637.08,1321.29 L1641.15,1321.40 L1645.21,1321.50 L1649.28,1321.60 L1653.35,1321.69 L1657.42,1321.79 L1661.49,1321.88 L1665.56,1321.97 L1669.63,1322.06 L1673.70,1322.15 L1677.77,1322.23 L1681.84,1322.31 L1685.91,1322.39 L1689.98,1322.47 L1694.05,1322.55 L1698.11,1322.63 L1702.18,1322.70 L1706.25,1322.78 L1710.32,1322.85 L1714.39,1322.92 L1718.46,1322.99 L1722.53,1323.05 L1726.60,1323.12 L1730.67,1323.18 L1734.74,1323.25 L1738.81,1323.31 L1742.88,1323.37 L1746.95,1323.43 L1751.02,1323.49 L1755.08,1323.54 L1759.15,1323.60 L1763.22,1323.65 L1767.29,1323.71 L1771.36,1323.76 L1775.43,1323.81 L1779.50,1323.86 L1783.57,1323.91 L1787.64,1323.96 L1791.71,1324.00 L1795.78,1324.05 L1799.85,1324.09 L1803.92,1324.14 L1807.98,1324.18 L1812.05,1324.22 L1816.12,1324.27 L1820.19,1324.31 L1824.26,1324.35 L1828.33,1324.38 L1832.40,1324.42" stroke="#00ff00" stroke-width="11.6"/>
<path d="M204.70,41.45 L208.77,54.84 L212.84,68.20 L216.91,81.53 L220.98,94.83 L225.05,108.09 L229.12,121.31 L233.18,134.49 L237.25,147.62 L241.32,160.71 L245.39,173.74 L249.46,186.76 L253.53,199.74 L257.60,212.69 L261.67,225.59 L265.74,238.42 L269.81,251.19 L273.88,263.87 L277.95,276.46 L282.02,288.94 L286.08,301.32 L290.15,313.61 L294.22,325.80 L298.29,337.90 L302.36,349.91 L306.43,361.84 L310.50,373.68 L314.57,385.44 L318.64,397.11 L322.71,408.71 L326.78,420.22 L330.85,431.66 L334.92,443.04 L338.99,454.34 L343.05,465.57 L347.12,476.71 L351.19,487.77 L355.26,498.73 L359.33,509.58 L363.40,520.32 L367.47,530.95 L371.54,541.47 L375.61,551.85 L379.68,562.11 L383.75,572.23 L387.82,582.24 L391.89,592.13 L395.95,601.91 L400.02,611.59 L404.09,621.17 L408.16,630.65 L412.23,640.05 L416.30,649.37 L420.37,658.61 L424.44,667.78 L428.51,676.87 L432.58,685.91 L436.65,694.86 L440.72,703.72 L444.79,712.50 L448.86,721.20 L452.92,729.81 L456.99,738.34 L461.06,746.78 L465.13,755.15 L469.20,763.43 L473.27,771.64 L477.34,779.77 L481.41,787.82 L485.48,795.79 L489.55,803.69 L493.62,811.51 L497.69,819.25 L501.76,826.93 L505.82,834.52 L509.89,842.04 L513.96,849.49 L518.03,856.85 L522.10,864.13 L526.17,871.33 L530.24,878.45 L534.31,885.49 L538.38,892.45 L542.45,899.32 L546.52,906.11 L550.59,912.81 L554.66,919.43 L558.72,925.96 L562.79,932.41 L566.86,938.78 L570.93,945.05 L575.00,951.25 L579.07,957.36 L583.14,963.39 L587.21,969.34 L591.28,975.21 L595.35,981.00 L599.42,986.72 L603.49,992.36 L607.56,997.92 L611.62,1003.40 L615.69,1008.85 L619.76,1014.22 L623.83,1019.51 L627.90,1024.74 L631.97,1029.89 L636.04,1034.98 L640.11,1039.99 L644.18,1044.93 L648.25,1049.81 L652.32,1054.62 L656.39,1059.36 L660.46,1064.04 L664.53,1068.65 L668.59,1073.20 L672.66,1077.69 L676.73,1082.11 L680.80,1086.48 L684.87,1090.78 L688.94,1095.02 L693.01,1099.20 L697.08,1103.32 L701.15,1107.38 L705.22,1111.38 L709.29,1115.31 L713.36,1119.19 L717.43,1123.00 L721.49,1126.76 L725.56,1130.45 L729.63,1134.08 L733.70,1137.66 L737.77,1141.18 L741.84,1144.63 L745.91,1148.03 L749.98,1151.37 L754.05,1154.66 L758.12,1157.88 L762.19,1161.05 L766.26,1164.17 L770.33,1167.23 L774.39,1170.23 L778.46,1173.18 L782.53,1176.08 L786.60,1178.92 L790.67,1181.72 L794.74,1184.45 L798.81,1187.14 L802.88,1189.79 L806.95,1192.38 L811.02,1194.93 L815.09,1197.44 L819.16,1199.91 L823.23,1202.33 L827.30,1204.70 L831.36,1207.04 L835.43,1209.33 L839.50,1211.59 L843.57,1213.80 L847.64,1215.97 L851.71,1218.11 L855.78,1220.21 L859.85,1222.26 L863.92,1224.28 L867.99,1226.27 L872.06,1228.22 L876.13,1230.13 L880.20,1232.01 L884.26,1233.85 L888.33,1235.66 L892.40,1237.43 L896.47,1239.17 L900.54,1240.88 L904.61,1242.56 L908.68,1244.21 L912.75,1245.82 L916.82,1247.41 L920.89,1248.96 L924.96,1250.49 L929.03,1251.98 L933.10,1253.45 L937.16,1254.89 L941.23,1256.30 L945.30,1257.69 L949.37,1259.05 L953.44,1260.38 L957.51,1261.69 L961.58,1262.97 L965.65,1264.22 L969.72,1265.46 L973.79,1266.66 L977.86,1267.85 L981.93,1269.01 L986.00,1270.15 L990.07,1271.27 L994.13,1272.36 L998.20,1273.44 L1002.27,1274.49 L1006.34,1275.52 L1010.41,1276.54 L1014.48,1277.53 L1018.55,1278.51 L1022.62,1279.47 L1026.69,1280.41 L1030.76,1281.33 L1034.83,1282.23 L1038.90,1283.12 L1042.97,1283.99 L1047.03,1284.84 L1051.10,1285.68 L1055.17,1286.50 L1059.24,1287.30 L1063.31,1288.09 L1067.38,1288.86 L1071.45,1289.62 L1075.52,1290.36 L1079.59,1291.09 L1083.66,1291.81 L1087.73,1292.51 L1091.80,1293.19 L1095.87,1293.87 L1099.94,1294.53 L1104.00,1295.18 L1108.07,1295.81 L1112.14,1296.43 L1116.21,1297.04 L1120.28,1297.64 L1124.35,1298.23 L1128.42,1298.80 L1132.49,1299.37 L1136.56,1299.92 L1140.63,1300.46 L1144.70,1300.99 L1148.77,1301.51 L1152.84,1302.02 L1156.90,1302.52 L1160.97,1303.01 L1165.04,1303.49 L1169.11,1303.96 L1173.18,1304.42 L1177.25,1304.87 L1181.32,1305.32 L1185.39,1305.75 L1189.46,1306.18 L1193.53,1306.60 L1197.60,1307.01 L1201.67,1307.41 L1205.74,1307.80 L1209.80,1308.19 L1213.87,1308.57 L1217.94,1308.94 L1222.01,1309.30 L1226.08,1309.66 L1230.15,1310.01 L1234.22,1310.35 L1238.29,1310.69 L1242.36,1311.02 L1246.43,1311.34 L1250.50,1311.66 L1254.57,1311.96 L1258.64,1312.27 L1262.71,1312.56 L1266.77,1312.85 L1270.84,1313.14 L1274.91,1313.42 L1278.98,1313.69 L1283.05,1313.96 L1287.12,1314.22 L1291.19,1314.48 L1295.26,1314.73 L1299.33,1314.97 L1303.40,1315.21 L1307.47,1315.45 L1311.54,1315.68 L1315.61,1315.90 L1319.67,1316.12 L1323.74,1316.34 L1327.81,1316.55 L1331.88,1316.76 L1335.95,1316.96 L1340.02,1317.16 L1344.09,1317.35 L1348.16,1317.54 L1352.23,1317.73 L1356.30,1317.91 L1360.37,1318.09 L1364.44,1318.26 L1368.51,1318.43 L1372.57,1318.60 L1376.64,1318.76 L1380.71,1318.92 L1384.78,1319.08 L1388.85,1319.23 L1392.92,1319.38 L1396.99,1319.52 L1401.06,1319.67 L1405.13,1319.81 L1409.20,1319.94 L1413.27,1320.08 L1417.34,1320.21 L1421.41,1320.34 L1425.48,1320.46 L1429.54,1320.59 L1433.61,1320.71 L1437.68,1320.83 L1441.75,1320.94 L1445.82,1321.06 L1449.89,1321.17 L1453.96,1321.28 L1458.03,1321.38 L1462.10,1321.49 L1466.17,1321.59 L1470.24,1321.69 L1474.31,1321.79 L1478.38,1321.88 L1482.44,1321.98 L1486.51,1322.07 L1490.58,1322.16 L1494.65,1322.25 L1498.72,1322.33 L1502.79,1322.42 L1506.86,1322.50 L1510.93,1322.58 L1515.00,1322.66 L1519.07,1322.74 L1523.14,1322.82 L1527.21,1322.89 L1531.28,1322.97 L1535.34,1323.04 L1539.41,1323.11 L1543.48,1323.18 L1547.55,1323.24 L1551.62,1323.31 L1555.69,1323.38 L1559.76,1323.44 L1563.83,1323.50 L1567.90,1323.56 L1571.97,1323.62 L1576.04,1323.68 L1580.11,1323.74 L1584.18,1323.79 L1588.25,1323.85 L1592.31,1323.90 L1596.38,1323.96 L1600.45,1324.01 L1604.52,1324.06 L1608.59,1324.11 L1612.66,1324.15 L1616.73,1324.20 L1620.80,1324.25 L1624.87,1324.29 L1628.94,1324.34 L1633.01,1324.38 L1637.08,1324.42 L1641.15,1324.47 L1645.21,1324.51 L1649.28,1324.55 L1653.35,1324.59 L1657.42,1324.62 L1661.49,1324.66 L1665.56,1324.70 L1669.63,1324.73 L1673.70,1324.77 L1677.77,1324.80 L1681.84,1324.84 L1685.91,1324.87 L1689.98,1324.90 L1694.05,1324.93 L1698.11,1324.97 L1702.18,1325.00 L1706.25,1325.03 L1710.32,1325.05 L1714.39,1325.08 L1718.46,1325.11 L1722.53,1325.14 L1726.60,1325.16 L1730.67,1325.19 L1734.74,1325.22 L1738.81,1325.24 L1742.88,1325.26 L1746.95,1325.29 L1751.02,1325.31 L1755.08,1325.33 L1759.15,1325.36 L1763.22,1325.38 L1767.29,1325.40 L1771.36,1325.42 L1775.43,1325.44 L1779.50,1325.46 L1783.57,1325.48 L1787.64,1325.50 L1791.71,1325.52 L1795.78,1325.54 L1799.85,1325.55 L1803.92,1325.57 L1807.98,1325.59 L1812.05,1325.61 L1816.12,1325.62 L1820.19,1325.64 L1824.26,1325.65 L1828.33,1325.67 L1832.40,1325.68" stroke="#ff0000" stroke-width="11.0" stroke-dasharray="38.7 36.3"/>
<path d="M204.70,41.45 L208.77,52.44 L212.84,63.41 L216.91,74.36 L220.98,85.30 L225.05,96.21 L229.12,107.09 L233.18,117.95 L237.25,128.78 L241.32,139.59 L245.39,150.36 L249.46,161.10 L253.53,171.81 L257.60,182.50 L261.67,193.16 L265.74,203.79 L269.81,214.39 L273.88,224.95 L277.95,235.49 L282.02,245.98 L286.08,256.43 L290.15,266.84 L294.22,277.21 L298.29,287.53 L302.36,297.80 L306.43,308.02 L310.50,318.21 L314.57,328.36 L318.64,338.46 L322.71,348.52 L326.78,358.53 L330.85,368.49 L334.92,378.40 L338.99,388.25 L343.05,398.04 L347.12,407.78 L351.19,417.45 L355.26,427.07 L359.33,436.62 L363.40,446.12 L367.47,455.57 L371.54,464.96 L375.61,474.30 L379.68,483.57 L383.75,492.79 L387.82,501.94 L391.89,511.03 L395.95,520.05 L400.02,529.00 L404.09,537.89 L408.16,546.71 L412.23,555.46 L416.30,564.12 L420.37,572.71 L424.44,581.21 L428.51,589.63 L432.58,597.99 L436.65,606.28 L440.72,614.51 L444.79,622.68 L448.86,630.80 L452.92,638.87 L456.99,646.90 L461.06,654.88 L465.13,662.82 L469.20,670.73 L473.27,678.61 L477.34,686.45 L481.41,694.26 L485.48,702.04 L489.55,709.77 L493.62,717.46 L497.69,725.10 L501.76,732.70 L505.82,740.24 L509.89,747.72 L513.96,755.15 L518.03,762.52 L522.10,769.82 L526.17,777.07 L530.24,784.24 L534.31,791.35 L538.38,798.39 L542.45,805.36 L546.52,812.25 L550.59,819.07 L554.66,825.79 L558.72,832.44 L562.79,839.02 L566.86,845.52 L570.93,851.96 L575.00,858.33 L579.07,864.64 L583.14,870.89 L587.21,877.09 L591.28,883.23 L595.35,889.33 L599.42,895.38 L603.49,901.39 L607.56,907.35 L611.62,913.28 L615.69,919.15 L619.76,924.98 L623.83,930.77 L627.90,936.54 L631.97,942.27 L636.04,947.98 L640.11,953.65 L644.18,959.28 L648.25,964.87 L652.32,970.42 L656.39,975.92 L660.46,981.38 L664.53,986.78 L668.59,992.14 L672.66,997.45 L676.73,1002.70 L680.80,1007.89 L684.87,1013.03 L688.94,1018.11 L693.01,1023.12 L697.08,1028.08 L701.15,1032.98 L705.22,1037.81 L709.29,1042.58 L713.36,1047.28 L717.43,1051.92 L721.49,1056.49 L725.56,1061.00 L729.63,1065.44 L733.70,1069.81 L737.77,1074.13 L741.84,1078.41 L745.91,1082.64 L749.98,1086.82 L754.05,1090.95 L758.12,1095.03 L762.19,1099.06 L766.26,1103.04 L770.33,1106.97 L774.39,1110.85 L778.46,1114.67 L782.53,1118.43 L786.60,1122.14 L790.67,1125.79 L794.74,1129.39 L798.81,1132.94 L802.88,1136.42 L806.95,1139.85 L811.02,1143.23 L815.09,1146.55 L819.16,1149.82 L823.23,1153.04 L827.30,1156.20 L831.36,1159.32 L835.43,1162.38 L839.50,1165.39 L843.57,1168.35 L847.64,1171.27 L851.71,1174.13 L855.78,1176.95 L859.85,1179.72 L863.92,1182.44 L867.99,1185.12 L872.06,1187.75 L876.13,1190.34 L880.20,1192.89 L884.26,1195.39 L888.33,1197.84 L892.40,1200.26 L896.47,1202.63 L900.54,1204.97 L904.61,1207.26 L908.68,1209.51 L912.75,1211.72 L916.82,1213.90 L920.89,1216.03 L924.96,1218.13 L929.03,1220.19 L933.10,1222.21 L937.16,1224.20 L941.23,1226.15 L945.30,1228.07 L949.37,1229.95 L953.44,1231.80 L957.51,1233.62 L961.58,1235.40 L965.65,1237.15 L969.72,1238.87 L973.79,1240.56 L977.86,1242.21 L981.93,1243.84 L986.00,1245.44 L990.07,1247.00 L994.13,1248.54 L998.20,1250.05 L1002.27,1251.53 L1006.34,1252.99 L1010.41,1254.41 L1014.48,1255.82 L1018.55,1257.20 L1022.62,1258.57 L1026.69,1259.91 L1030.76,1261.23 L1034.83,1262.52 L1038.90,1263.80 L1042.97,1265.04 L1047.03,1266.27 L1051.10,1267.47 L1055.17,1268.65 L1059.24,1269.81 L1063.31,1270.95 L1067.38,1272.06 L1071.45,1273.15 L1075.52,1274.23 L1079.59,1275.28 L1083.66,1276.32 L1087.73,1277.33 L1091.80,1278.32 L1095.87,1279.30 L1099.94,1280.26 L1104.00,1281.20 L1108.07,1282.12 L1112.14,1283.02 L1116.21,1283.91 L1120.28,1284.78 L1124.35,1285.63 L1128.42,1286.47 L1132.49,1287.29 L1136.56,1288.09 L1140.63,1288.88 L1144.70,1289.65 L1148.77,1290.41 L1152.84,1291.15 L1156.90,1291.88 L1160.97,1292.59 L1165.04,1293.29 L1169.11,1293.98 L1173.18,1294.65 L1177.25,1295.31 L1181.32,1295.96 L1185.39,1296.59 L1189.46,1297.22 L1193.53,1297.82 L1197.60,1298.42 L1201.67,1299.01 L1205.74,1299.59 L1209.80,1300.15 L1213.87,1300.71 L1217.94,1301.25 L1222.01,1301.79 L1226.08,1302.31 L1230.15,1302.82 L1234.22,1303.32 L1238.29,1303.82 L1242.36,1304.30 L1246.43,1304.77 L1250.50,1305.24 L1254.57,1305.69 L1258.64,1306.14 L1262.71,1306.58 L1266.77,1307.00 L1270.84,1307.42 L1274.91,1307.83 L1278.98,1308.23 L1283.05,1308.62 L1287.12,1309.01 L1291.19,1309.39 L1295.26,1309.75 L1299.33,1310.11 L1303.40,1310.47 L1307.47,1310.81 L1311.54,1311.15 L1315.61,1311.48 L1319.67,1311.80 L1323.74,1312.12 L1327.81,1312.43 L1331.88,1312.73 L1335.95,1313.02 L1340.02,1313.31 L1344.09,1313.60 L1348.16,1313.87 L1352.23,1314.14 L1356.30,1314.40 L1360.37,1314.66 L1364.44,1314.91 L1368.51,1315.16 L1372.57,1315.40 L1376.64,1315.64 L1380.71,1315.87 L1384.78,1316.09 L1388.85,1316.31 L1392.92,1316.52 L1396.99,1316.73 L1401.06,1316.94 L1405.13,1317.14 L1409.20,1317.34 L1413.27,1317.53 L1417.34,1317.72 L1421.41,1317.90 L1425.48,1318.08 L1429.54,1318.26 L1433.61,1318.43 L1437.68,1318.60 L1441.75,1318.77 L1445.82,1318.93 L1449.89,1319.09 L1453.96,1319.24 L1458.03,1319.39 L1462.10,1319.54 L1466.17,1319.69 L1470.24,1319.83 L1474.31,1319.97 L1478.38,1320.10 L1482.44,1320.24 L1486.51,1320.37 L1490.58,1320.49 L1494.65,1320.62 L1498.72,1320.74 L1502.79,1320.86 L1506.86,1320.98 L1510.93,1321.09 L1515.00,1321.20 L1519.07,1321.31 L1523.14,1321.42 L1527.21,1321.53 L1531.28,1321.63 L1535.34,1321.73 L1539.41,1321.83 L1543.48,1321.92 L1547.55,1322.02 L1551.62,1322.11 L1555.69,1322.20 L1559.76,1322.29 L1563.83,1322.38 L1567.90,1322.46 L1571.97,1322.55 L1576.04,1322.63 L1580.11,1322.71 L1584.18,1322.78 L1588.25,1322.86 L1592.31,1322.94 L1596.38,1323.01 L1600.45,1323.08 L1604.52,1323.15 L1608.59,1323.22 L1612.66,1323.29 L1616.73,1323.35 L1620.80,1323.42 L1624.87,1323.48 L1628.94,1323.54 L1633.01,1323.60 L1637.08,1323.66 L1641.15,1323.72 L1645.21,1323.77 L1649.28,1323.83 L1653.35,1323.88 L1657.42,1323.94 L1661.49,1323.99 L1665.56,1324.04 L1669.63,1324.09 L1673.70,1324.14 L1677.77,1324.18 L1681.84,1324.23 L1685.91,1324.28 L1689.98,1324.32 L1694.05,1324.36 L1698.11,1324.41 L1702.18,1324.45 L1706.25,1324.49 L1710.32,1324.53 L1714.39,1324.57 L1718.46,1324.61 L1722.53,1324.64 L1726.60,1324.68 L1730.67,1324.72 L1734.74,1324.75 L1738.81,1324.79 L1742.88,1324.82 L1746.95,1324.85 L1751.02,1324.89 L1755.08,1324.92 L1759.15,1324.95 L1763.22,1324.98 L1767.29,1325.01 L1771.36,1325.04 L1775.43,1325.07 L1779.50,1325.09 L1783.57,1325.12 L1787.64,1325.15 L1791.71,1325.17 L1795.78,1325.20 L1799.85,1325.22 L1803.92,1325.25 L1807.98,1325.27 L1812.05,1325.29 L1816.12,1325.32 L1820.19,1325.34 L1824.26,1325.36 L1828.33,1325.38 L1832.40,1325.40" stroke="#ff0000" stroke-width="11.0" stroke-dasharray="38.7 36.3"/>
<path d="M204.70,41.45 L208.77,51.42 L212.84,61.37 L216.91,71.30 L220.98,81.19 L225.05,91.06 L229.12,100.90 L233.18,110.71 L237.25,120.49 L241.32,130.24 L245.39,139.96 L249.46,149.65 L253.53,159.31 L257.60,168.93 L261.67,178.52 L265.74,188.06 L269.81,197.57 L273.88,207.04 L277.95,216.47 L282.02,225.87 L286.08,235.24 L290.15,244.58 L294.22,253.90 L298.29,263.19 L302.36,272.45 L306.43,281.69 L310.50,290.91 L314.57,300.11 L318.64,309.29 L322.71,318.45 L326.78,327.59 L330.85,336.70 L334.92,345.78 L338.99,354.83 L343.05,363.85 L347.12,372.83 L351.19,381.77 L355.26,390.67 L359.33,399.53 L363.40,408.35 L367.47,417.12 L371.54,425.84 L375.61,434.51 L379.68,443.15 L383.75,451.74 L387.82,460.29 L391.89,468.80 L395.95,477.27 L400.02,485.69 L404.09,494.07 L408.16,502.40 L412.23,510.69 L416.30,518.93 L420.37,527.13 L424.44,535.28 L428.51,543.39 L432.58,551.45 L436.65,559.46 L440.72,567.42 L444.79,575.32 L448.86,583.17 L452.92,590.97 L456.99,598.72 L461.06,606.42 L465.13,614.08 L469.20,621.69 L473.27,629.26 L477.34,636.79 L481.41,644.28 L485.48,651.73 L489.55,659.13 L493.62,666.51 L497.69,673.84 L501.76,681.15 L505.82,688.41 L509.89,695.64 L513.96,702.84 L518.03,709.99 L522.10,717.11 L526.17,724.18 L530.24,731.21 L534.31,738.19 L538.38,745.13 L542.45,752.02 L546.52,758.86 L550.59,765.65 L554.66,772.39 L558.72,779.08 L562.79,785.71 L566.86,792.30 L570.93,798.82 L575.00,805.29 L579.07,811.71 L583.14,818.06 L587.21,824.34 L591.28,830.56 L595.35,836.71 L599.42,842.81 L603.49,848.84 L607.56,854.82 L611.62,860.75 L615.69,866.60 L619.76,872.40 L623.83,878.15 L627.90,883.87 L631.97,889.54 L636.04,895.17 L640.11,900.76 L644.18,906.33 L648.25,911.85 L652.32,917.35 L656.39,922.81 L660.46,928.25 L664.53,933.65 L668.59,939.03 L672.66,944.39 L676.73,949.71 L680.80,955.00 L684.87,960.25 L688.94,965.46 L693.01,970.64 L697.08,975.78 L701.15,980.88 L705.22,985.93 L709.29,990.95 L713.36,995.92 L717.43,1000.84 L721.49,1005.72 L725.56,1010.55 L729.63,1015.34 L733.70,1020.07 L737.77,1024.76 L741.84,1029.40 L745.91,1033.99 L749.98,1038.52 L754.05,1043.01 L758.12,1047.44 L762.19,1051.83 L766.26,1056.16 L770.33,1060.43 L774.39,1064.66 L778.46,1068.83 L782.53,1072.98 L786.60,1077.14 L790.67,1081.29 L794.74,1085.42 L798.81,1089.52 L802.88,1093.58 L806.95,1097.57 L811.02,1101.50 L815.09,1105.37 L819.16,1109.18 L823.23,1112.93 L827.30,1116.62 L831.36,1120.26 L835.43,1123.84 L839.50,1127.37 L843.57,1130.84 L847.64,1134.26 L851.71,1137.62 L855.78,1140.94 L859.85,1144.20 L863.92,1147.41 L867.99,1150.57 L872.06,1153.69 L876.13,1156.75 L880.20,1159.76 L884.26,1162.73 L888.33,1165.65 L892.40,1168.53 L896.47,1171.36 L900.54,1174.15 L904.61,1176.89 L908.68,1179.59 L912.75,1182.24 L916.82,1184.86 L920.89,1187.43 L924.96,1189.96 L929.03,1192.45 L933.10,1194.90 L937.16,1197.31 L941.23,1199.68 L945.30,1202.01 L949.37,1204.31 L953.44,1206.57 L957.51,1208.79 L961.58,1210.98 L965.65,1213.13 L969.72,1215.24 L973.79,1217.33 L977.86,1219.37 L981.93,1221.39 L986.00,1223.37 L990.07,1225.31 L994.13,1227.23 L998.20,1229.11 L1002.27,1230.97 L1006.34,1232.79 L1010.41,1234.59 L1014.48,1236.35 L1018.55,1238.09 L1022.62,1239.83 L1026.69,1241.54 L1030.76,1243.22 L1034.83,1244.87 L1038.90,1246.49 L1042.97,1248.09 L1047.03,1249.66 L1051.10,1251.20 L1055.17,1252.71 L1059.24,1254.20 L1063.31,1255.66 L1067.38,1257.10 L1071.45,1258.51 L1075.52,1259.89 L1079.59,1261.25 L1083.66,1262.59 L1087.73,1263.90 L1091.80,1265.18 L1095.87,1266.45 L1099.94,1267.68 L1104.00,1268.90 L1108.07,1270.09 L1112.14,1271.26 L1116.21,1272.41 L1120.28,1273.53 L1124.35,1274.63 L1128.42,1275.72 L1132.49,1276.78 L1136.56,1277.81 L1140.63,1278.83 L1144.70,1279.83 L1148.77,1280.81 L1152.84,1281.77 L1156.90,1282.71 L1160.97,1283.63 L1165.04,1284.54 L1169.11,1285.42 L1173.18,1286.29 L1177.25,1287.13 L1181.32,1287.96 L1185.39,1288.78 L1189.46,1289.58 L1193.53,1290.36 L1197.60,1291.12 L1201.67,1291.88 L1205.74,1292.62 L1209.80,1293.34 L1213.87,1294.05 L1217.94,1294.75 L1222.01,1295.44 L1226.08,1296.11 L1230.15,1296.77 L1234.22,1297.41 L1238.29,1298.05 L1242.36,1298.67 L1246.43,1299.27 L1250.50,1299.87 L1254.57,1300.45 L1258.64,1301.02 L1262.71,1301.58 L1266.77,1302.13 L1270.84,1302.67 L1274.91,1303.19 L1278.98,1303.71 L1283.05,1304.21 L1287.12,1304.70 L1291.19,1305.18 L1295.26,1305.65 L1299.33,1306.11 L1303.40,1306.56 L1307.47,1307.00 L1311.54,1307.43 L1315.61,1307.85 L1319.67,1308.26 L1323.74,1308.67 L1327.81,1309.06 L1331.88,1309.44 L1335.95,1309.82 L1340.02,1310.19 L1344.09,1310.54 L1348.16,1310.89 L1352.23,1311.23 L1356.30,1311.57 L1360.37,1311.89 L1364.44,1312.21 L1368.51,1312.52 L1372.57,1312.83 L1376.64,1313.12 L1380.71,1313.41 L1384.78,1313.69 L1388.85,1313.97 L1392.92,1314.24 L1396.99,1314.50 L1401.06,1314.76 L1405.13,1315.01 L1409.20,1315.26 L1413.27,1315.50 L1417.34,1315.73 L1421.41,1315.96 L1425.48,1316.19 L1429.54,1316.41 L1433.61,1316.62 L1437.68,1316.83 L1441.75,1317.04 L1445.82,1317.24 L1449.89,1317.44 L1453.96,1317.63 L1458.03,1317.82 L1462.10,1318.00 L1466.17,1318.18 L1470.24,1318.36 L1474.31,1318.53 L1478.38,1318.70 L1482.44,1318.87 L1486.51,1319.03 L1490.58,1319.19 L1494.65,1319.34 L1498.72,1319.49 L1502.79,1319.64 L1506.86,1319.78 L1510.93,1319.93 L1515.00,1320.06 L1519.07,1320.20 L1523.14,1320.33 L1527.21,1320.46 L1531.28,1320.59 L1535.34,1320.71 L1539.41,1320.84 L1543.48,1320.96 L1547.55,1321.07 L1551.62,1321.19 L1555.69,1321.30 L1559.76,1321.41 L1563.83,1321.51 L1567.90,1321.62 L1571.97,1321.72 L1576.04,1321.82 L1580.11,1321.92 L1584.18,1322.02 L1588.25,1322.11 L1592.31,1322.20 L1596.38,1322.29 L1600.45,1322.38 L1604.52,1322.47 L1608.59,1322.55 L1612.66,1322.63 L1616.73,1322.71 L1620.80,1322.79 L1624.87,1322.87 L1628.94,1322.95 L1633.01,1323.02 L1637.08,1323.09 L1641.15,1323.16 L1645.21,1323.23 L1649.28,1323.30 L1653.35,1323.37 L1657.42,1323.43 L1661.49,1323.50 L1665.56,1323.56 L1669.63,1323.62 L1673.70,1323.68 L1677.77,1323.74 L1681.84,1323.79 L1685.91,1323.85 L1689.98,1323.90 L1694.05,1323.96 L1698.11,1324.01 L1702.18,1324.06 L1706.25,1324.11 L1710.32,1324.16 L1714.39,1324.21 L1718.46,1324.25 L1722.53,1324.30 L1726.60,1324.34 L1730.67,1324.39 L1734.74,1324.43 L1738.81,1324.47 L1742.88,1324.51 L1746.95,1324.55 L1751.02,1324.59 L1755.08,1324.63 L1759.15,1324.67 L1763.22,1324.70 L1767.29,1324.74 L1771.36,1324.78 L1775.43,1324.81 L1779.50,1324.84 L1783.57,1324.88 L1787.64,1324.91 L1791.71,1324.94 L1795.78,1324.97 L1799.85,1325.00 L1803.92,1325.03 L1807.98,1325.06 L1812.05,1325.09 L1816.12,1325.12 L1820.19,1325.14 L1824.26,1325.17 L1828.33,1325.19 L1832.40,1325.22" stroke="#ff0000" stroke-width="11.0" stroke-dasharray="38.7 36.3"/>
<path d="M204.70,41.45 L208.77,50.71 L212.84,59.96 L216.91,69.19 L220.98,78.41 L225.05,87.62 L229.12,96.80 L233.18,105.97 L237.25,115.12 L241.32,124.25 L245.39,133.36 L249.46,142.45 L253.53,151.52 L257.60,160.56 L261.67,169.58 L265.74,178.58 L269.81,187.55 L273.88,196.50 L277.95,205.43 L282.02,214.33 L286.08,223.20 L290.15,232.06 L294.22,240.89 L298.29,249.70 L302.36,258.48 L306.43,267.24 L310.50,275.98 L314.57,284.70 L318.64,293.39 L322.71,302.06 L326.78,310.73 L330.85,319.38 L334.92,328.02 L338.99,336.64 L343.05,345.24 L347.12,353.80 L351.19,362.33 L355.26,370.82 L359.33,379.27 L363.40,387.68 L367.47,396.03 L371.54,404.33 L375.61,412.57 L379.68,420.75 L383.75,428.87 L387.82,436.92 L391.89,444.90 L395.95,452.82 L400.02,460.69 L404.09,468.51 L408.16,476.28 L412.23,484.00 L416.30,491.68 L420.37,499.32 L424.44,506.92 L428.51,514.50 L432.58,522.04 L436.65,529.56 L440.72,537.06 L444.79,544.53 L448.86,551.98 L452.92,559.42 L456.99,566.83 L461.06,574.20 L465.13,581.54 L469.20,588.85 L473.27,596.12 L477.34,603.36 L481.41,610.56 L485.48,617.73 L489.55,624.87 L493.62,631.96 L497.69,639.02 L501.76,646.05 L505.82,653.04 L509.89,659.99 L513.96,666.90 L518.03,673.77 L522.10,680.60 L526.17,687.40 L530.24,694.14 L534.31,700.85 L538.38,707.51 L542.45,714.12 L546.52,720.70 L550.59,727.23 L554.66,733.73 L558.72,740.18 L562.79,746.60 L566.86,752.98 L570.93,759.33 L575.00,765.64 L579.07,771.91 L583.14,778.16 L587.21,784.37 L591.28,790.55 L595.35,796.69 L599.42,802.81 L603.49,808.90 L607.56,814.95 L611.62,820.97 L615.69,826.93 L619.76,832.84 L623.83,838.72 L627.90,844.56 L631.97,850.36 L636.04,856.12 L640.11,861.85 L644.18,867.53 L648.25,873.18 L652.32,878.79 L656.39,884.36 L660.46,889.89 L664.53,895.39 L668.59,900.84 L672.66,906.26 L676.73,911.64 L680.80,916.98 L684.87,922.29 L688.94,927.55 L693.01,932.78 L697.08,937.97 L701.15,943.12 L705.22,948.22 L709.29,953.28 L713.36,958.30 L717.43,963.27 L721.49,968.20 L725.56,973.09 L729.63,977.93 L733.70,982.73 L737.77,987.49 L741.84,992.21 L745.91,996.88 L749.98,1001.52 L754.05,1006.12 L758.12,1010.68 L762.19,1015.20 L766.26,1019.68 L770.33,1024.12 L774.39,1028.52 L778.46,1032.89 L782.53,1037.21 L786.60,1041.50 L790.67,1045.76 L794.74,1049.97 L798.81,1054.15 L802.88,1058.29 L806.95,1062.40 L811.02,1066.47 L815.09,1070.50 L819.16,1074.52 L823.23,1078.51 L827.30,1082.47 L831.36,1086.41 L835.43,1090.32 L839.50,1094.20 L843.57,1098.04 L847.64,1101.85 L851.71,1105.62 L855.78,1109.35 L859.85,1113.04 L863.92,1116.68 L867.99,1120.28 L872.06,1123.83 L876.13,1127.34 L880.20,1130.80 L884.26,1134.20 L888.33,1137.56 L892.40,1140.86 L896.47,1144.12 L900.54,1147.32 L904.61,1150.46 L908.68,1153.56 L912.75,1156.60 L916.82,1159.58 L920.89,1162.52 L924.96,1165.42 L929.03,1168.27 L933.10,1171.09 L937.16,1173.86 L941.23,1176.59 L945.30,1179.28 L949.37,1181.93 L953.44,1184.55 L957.51,1187.13 L961.58,1189.67 L965.65,1192.18 L969.72,1194.65 L973.79,1197.09 L977.86,1199.50 L981.93,1201.87 L986.00,1204.21 L990.07,1206.52 L994.13,1208.80 L998.20,1211.05 L1002.27,1213.26 L1006.34,1215.44 L1010.41,1217.59 L1014.48,1219.70 L1018.55,1221.78 L1022.62,1223.86 L1026.69,1225.89 L1030.76,1227.90 L1034.83,1229.87 L1038.90,1231.81 L1042.97,1233.71 L1047.03,1235.58 L1051.10,1237.43 L1055.17,1239.23 L1059.24,1241.01 L1063.31,1242.76 L1067.38,1244.47 L1071.45,1246.16 L1075.52,1247.81 L1079.59,1249.44 L1083.66,1251.03 L1087.73,1252.60 L1091.80,1254.13 L1095.87,1255.64 L1099.94,1257.12 L1104.00,1258.57 L1108.07,1259.99 L1112.14,1261.38 L1116.21,1262.75 L1120.28,1264.09 L1124.35,1265.41 L1128.42,1266.70 L1132.49,1267.96 L1136.56,1269.20 L1140.63,1270.41 L1144.70,1271.60 L1148.77,1272.76 L1152.84,1273.91 L1156.90,1275.02 L1160.97,1276.12 L1165.04,1277.19 L1169.11,1278.24 L1173.18,1279.27 L1177.25,1280.27 L1181.32,1281.26 L1185.39,1282.22 L1189.46,1283.16 L1193.53,1284.09 L1197.60,1285.00 L1201.67,1285.89 L1205.74,1286.76 L1209.80,1287.62 L1213.87,1288.46 L1217.94,1289.28 L1222.01,1290.09 L1226.08,1290.88 L1230.15,1291.65 L1234.22,1292.41 L1238.29,1293.16 L1242.36,1293.89 L1246.43,1294.60 L1250.50,1295.30 L1254.57,1295.99 L1258.64,1296.66 L1262.71,1297.32 L1266.77,1297.96 L1270.84,1298.59 L1274.91,1299.21 L1278.98,1299.81 L1283.05,1300.40 L1287.12,1300.98 L1291.19,1301.55 L1295.26,1302.10 L1299.33,1302.64 L1303.40,1303.17 L1307.47,1303.69 L1311.54,1304.20 L1315.61,1304.69 L1319.67,1305.18 L1323.74,1305.65 L1327.81,1306.11 L1331.88,1306.57 L1335.95,1307.01 L1340.02,1307.44 L1344.09,1307.86 L1348.16,1308.28 L1352.23,1308.68 L1356.30,1309.08 L1360.37,1309.46 L1364.44,1309.84 L1368.51,1310.21 L1372.57,1310.57 L1376.64,1310.92 L1380.71,1311.27 L1384.78,1311.60 L1388.85,1311.93 L1392.92,1312.25 L1396.99,1312.57 L1401.06,1312.88 L1405.13,1313.18 L1409.20,1313.48 L1413.27,1313.76 L1417.34,1314.05 L1421.41,1314.32 L1425.48,1314.60 L1429.54,1314.86 L1433.61,1315.12 L1437.68,1315.37 L1441.75,1315.62 L1445.82,1315.86 L1449.89,1316.10 L1453.96,1316.33 L1458.03,1316.56 L1462.10,1316.78 L1466.17,1316.99 L1470.24,1317.21 L1474.31,1317.41 L1478.38,1317.61 L1482.44,1317.81 L1486.51,1318.00 L1490.58,1318.19 L1494.65,1318.38 L1498.72,1318.55 L1502.79,1318.73 L1506.86,1318.90 L1510.93,1319.07 L1515.00,1319.23 L1519.07,1319.39 L1523.14,1319.55 L1527.21,1319.70 L1531.28,1319.85 L1535.34,1319.99 L1539.41,1320.13 L1543.48,1320.27 L1547.55,1320.41 L1551.62,1320.54 L1555.69,1320.67 L1559.76,1320.79 L1563.83,1320.92 L1567.90,1321.04 L1571.97,1321.15 L1576.04,1321.27 L1580.11,1321.38 L1584.18,1321.49 L1588.25,1321.59 L1592.31,1321.70 L1596.38,1321.80 L1600.45,1321.90 L1604.52,1321.99 L1608.59,1322.09 L1612.66,1322.18 L1616.73,1322.27 L1620.80,1322.36 L1624.87,1322.45 L1628.94,1322.53 L1633.01,1322.62 L1637.08,1322.70 L1641.15,1322.78 L1645.21,1322.85 L1649.28,1322.93 L1653.35,1323.00 L1657.42,1323.07 L1661.49,1323.15 L1665.56,1323.21 L1669.63,1323.28 L1673.70,1323.35 L1677.77,1323.41 L1681.84,1323.47 L1685.91,1323.54 L1689.98,1323.60 L1694.05,1323.66 L1698.11,1323.71 L1702.18,1323.77 L1706.25,1323.82 L1710.32,1323.88 L1714.39,1323.93 L1718.46,1323.98 L1722.53,1324.03 L1726.60,1324.08 L1730.67,1324.13 L1734.74,1324.18 L1738.81,1324.22 L1742.88,1324.27 L1746.95,1324.31 L1751.02,1324.35 L1755.08,1324.40 L1759.15,1324.44 L1763.22,1324.48 L1767.29,1324.52 L1771.36,1324.56 L1775.43,1324.60 L1779.50,1324.63 L1783.57,1324.67 L1787.64,1324.70 L1791.71,1324.74 L1795.78,1324.77 L1799.85,1324.81 L1803.92,1324.84 L1807.98,1324.87 L1812.05,1324.90 L1816.12,1324.93 L1820.19,1324.96 L1824.26,1324.99 L1828.33,1325.02 L1832.40,1325.05" stroke="#ff0000" stroke-width="11.0" stroke-dasharray="38.7 36.3"/>
</g>
<g shape-rendering="crispEdges" fill="#000" stroke="none">
<polygon points="776.0,783.6 716.2,815.0 746.0,816.6 750.3,846.9" stroke="#000" stroke-width="1.4" stroke-linejoin="bevel"/>
<polygon points="507.7,1066.0 516.1,1073.2 750.3,821.1 741.8,813.2"/>
</g>
<rect x="846.4" y="823.45" width="600.2" height="113.0" fill="#fff" stroke="#000" stroke-width="10.7" shape-rendering="crispEdges"/>
<text class="bk"><tspan y="895.3" style="font-size:62.5px;font-style:italic" x="874.00">α</tspan><tspan y="925.0" style="font-size:50.0px" x="912.67">2</tspan><tspan y="895.3" style="font-size:63.5px" x="936.15 952.03 988.21 1000.63 1031.61 1046.18 1077.55 1093.43 1105.72 1136.51 1151.20 1182.40 1198.28 1210.44 1241.61 1256.28 1287.45 1303.33 1315.01 1346.46 1361.28"> = 1.0, 3.0, 5.0, 7.0</tspan></text>
<rect x="1095" y="283" width="89" height="11" fill="#64d613" shape-rendering="crispEdges"/>
<rect x="1105.8" y="391.1" width="16.9" height="8" fill="#ff0000" shape-rendering="crispEdges"/><rect x="1130.1" y="391.1" width="16.9" height="8" fill="#ff0000" shape-rendering="crispEdges"/><rect x="1153.1" y="391.1" width="16.9" height="8" fill="#ff0000" shape-rendering="crispEdges"/><rect x="1176.0" y="391.1" width="16.9" height="8" fill="#ff0000" shape-rendering="crispEdges"/>
<text class="bk"><tspan y="296.4" style="font-size:63.5px" x="1214.06 1254.15 1270.25">TiO</tspan><tspan y="326.8" style="font-size:50.0px" x="1319.67">2</tspan><tspan y="296.4" style="font-size:63.5px" x="1344.06 1359.65 1420.33 1450.35 1470.74 1496.89">/Water</tspan></text>
<text class="bk"><tspan y="409.1" style="font-size:63.5px" x="1208.41 1250.31 1284.39 1317.81 1357.90 1374.00">Cu+TiO</tspan><tspan y="438.8" style="font-size:50.0px" x="1423.42">2</tspan><tspan y="409.1" style="font-size:63.5px" x="1447.81 1463.40 1524.08 1554.10 1574.49 1600.64">/Water</tspan></text>
<text class="lb" style="font-size:65px;font-style:italic" text-anchor="middle" transform="translate(1019.9,1484.4) scale(1.06,1)" x="0" y="0">η</text>
<g transform="translate(78.9,683.9) rotate(-90)"><text class="lb"><tspan style="font-size:66.0px" x="-60.38" y="0.00">f</tspan><tspan style="font-size:112.0px" x="-42.48" y="11.50">′</tspan><tspan style="font-size:63.0px;font-weight:normal;stroke:#262626;stroke-width:1.2px" x="-19.77" y="-2.20">(</tspan><tspan style="font-size:66.0px;font-style:italic" x="4.15" y="1.00">η</tspan><tspan style="font-size:63.0px;font-weight:normal;stroke:#262626;stroke-width:1.2px" x="40.47" y="-2.20">)</tspan></text></g>
</svg>
</body></html>
